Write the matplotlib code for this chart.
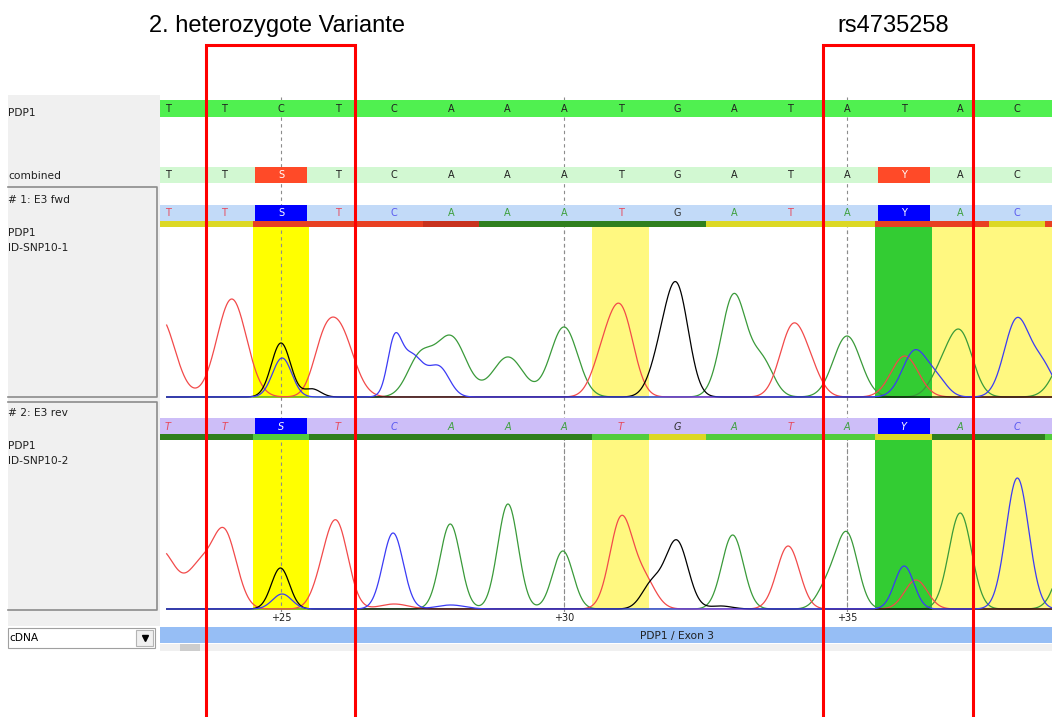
import numpy as np
import matplotlib.pyplot as plt
from matplotlib.patches import Rectangle

# ---- data ----
positions = np.arange(23, 39)               # cDNA positions of the called bases
ref_seq = list("TTCTCAAATGATATAC")          # PDP1 reference
combined_seq = list("TTSTCAAATGATAYAC")
fwd_seq = list("TTSTCAAATGATAYAC")
rev_seq = list("TTSTCAAATGATAYAC")

tick_pos = [25, 30, 35]
tick_labels = ["+25", "+30", "+35"]

# quality bar under each read, one entry per base (23..39)
qual_pos = np.arange(23, 40)
fwd_quality = ["y", "y", "r", "r", "r", "dr", "dg", "dg", "dg", "dg", "y", "y", "y", "r", "r", "y", "r"]
rev_quality = ["dg", "dg", "lg", "dg", "dg", "dg", "dg", "dg", "lg", "y", "lg", "lg", "lg", "y", "dg", "dg", "lg"]

# highlighted columns in both traces
hl_pos = [25, 31, 36, 37, 38, 39]
hl_colors = ["#FFFF00", "#FFF880", "#33CC33", "#FFF880", "#FFF880", "#FFF880"]

# chromatogram peaks per channel: (position, height, width)
fwd_peaks = {
    "A": [(27.45, 38, 0.22), (28.0, 60, 0.27), (29.01, 40, 0.27), (30.0, 70, 0.24),
          (33.0, 102, 0.22), (33.5, 35, 0.2), (35.0, 61, 0.24), (36.65, 20, 0.2),
          (37.0, 63, 0.22), (38.95, 50, 0.25)],
    "T": [(22.86, 80, 0.26), (24.13, 98, 0.26), (25.72, 26, 0.18), (26.01, 70, 0.26),
          (30.68, 32, 0.2), (31.01, 84, 0.22), (34.03, 67, 0.22), (34.35, 22, 0.2),
          (36.02, 41, 0.24)],
    "G": [(25.0, 54, 0.17), (25.55, 8, 0.15), (31.72, 38, 0.2), (32.01, 100, 0.2)],
    "C": [(25.02, 39, 0.17), (27.0, 46, 0.12), (27.3, 42, 0.22), (27.8, 28, 0.18),
          (36.2, 46, 0.22), (36.6, 15, 0.18), (38.0, 77, 0.22), (38.45, 30, 0.2)],
}
rev_peaks = {
    "A": [(27.99, 85, 0.18), (29.01, 105, 0.18), (29.98, 58, 0.18), (32.98, 74, 0.19),
          (34.65, 22, 0.18), (35.0, 74, 0.19), (37.0, 96, 0.2), (38.97, 70, 0.22)],
    "T": [(22.85, 60, 0.3), (23.55, 35, 0.2), (23.99, 78, 0.22), (25.72, 20, 0.18),
          (25.99, 82, 0.2), (27.0, 5, 0.25), (31.01, 90, 0.2), (31.42, 28, 0.2),
          (33.96, 63, 0.2), (36.22, 29, 0.2)],
    "G": [(24.99, 41, 0.16), (31.55, 24, 0.18), (31.99, 68, 0.2), (32.77, 3, 0.2)],
    "C": [(25.02, 15, 0.17), (26.98, 76, 0.18), (28.0, 4, 0.25), (36.01, 43, 0.17),
          (38.01, 131, 0.2)],
}

box_spans = [(23.68, 26.30), (34.58, 37.22)]
box_titles = ["2. heterozygote Variante", "rs4735258"]
title_x = [24.93, 35.81]

# ---- styles ----
trace_colors = {"A": "#3A9A3A", "C": "#3B3BF5", "G": "#000000", "T": "#F24A4A"}
letter_colors = {"A": "#3DA03D", "C": "#5A5AF0", "G": "#303030", "T": "#E8485A",
                 "S": "white", "Y": "white"}
qual_colors = {"y": "#DCD824", "r": "#E84022", "dr": "#C8321E",
               "dg": "#2F7F1E", "lg": "#52CC3C"}
ui_font = "DejaVu Sans"

W, H = 1052, 717
px0, step = 281, 56.6                      # pixel x of +25 and spacing of one base
pos_lo = 25 + (160 - px0) / step
pos_hi = 25 + (W - px0) / step

fig = plt.figure(figsize=(W / 100, H / 100), dpi=100)

# background / left panel in pixel units
bg = fig.add_axes([0, 0, 1, 1])
bg.set_xlim(0, W)
bg.set_ylim(H, 0)
bg.axis("off")
bg.add_patch(Rectangle((8, 95), 152, 531, facecolor="#F0F0F0", edgecolor="none"))
for top, bot in [(187, 397), (402, 610)]:
    bg.plot([8, 157, 157, 8], [top, top, bot, bot], color="#8C8C8C", lw=1.2)
labels = [("PDP1", 113), ("combined", 176), ("# 1: E3 fwd", 200), ("PDP1", 233),
          ("ID-SNP10-1", 248), ("# 2: E3 rev", 413), ("PDP1", 446), ("ID-SNP10-2", 461)]
for txt, y in labels:
    bg.text(8, y, txt, fontsize=7.7, family=ui_font, va="center", ha="left", color="#202020")
# cDNA combo box and scroll strip
bg.add_patch(Rectangle((8, 628), 147, 20, facecolor="white", edgecolor="#A0A0A0", lw=0.8))
bg.add_patch(Rectangle((136, 630), 17, 16, facecolor="#F0F0F0", edgecolor="#B4B4B4", lw=0.8))
bg.plot(144.5, 638, marker="v", color="black", ms=4)
bg.text(9, 638, "cDNA", fontsize=7.7, family=ui_font, va="center", ha="left")
bg.add_patch(Rectangle((160, 644), W - 160, 7, facecolor="#F0F0F0", edgecolor="none"))
bg.add_patch(Rectangle((180, 644), 20, 7, facecolor="#CDCDCD", edgecolor="none"))

# sequence tracks: x in base positions, y in pixels
tr = fig.add_axes([160 / W, 0, (W - 160) / W, 1])
tr.set_xlim(pos_lo, pos_hi)
tr.set_ylim(H, 0)
tr.axis("off")
tr.vlines(tick_pos, 97, 609, colors="#8C8C8C", linestyles=(0, (3, 3)), lw=0.8, zorder=0.5)

span = pos_hi - pos_lo
tr.barh(108.3, span, left=pos_lo, height=16.7, color="#50F050")
tr.barh(175, span, left=pos_lo, height=16, color="#D2F8D2")
tr.barh(213, span, left=pos_lo, height=16, color="#C2DAF8")
tr.barh(426, span, left=pos_lo, height=16, color="#CDBEF8")

amb = np.array([b in "SY" for b in combined_seq])
tr.bar(positions[amb], 16, bottom=167, width=0.92, color="#FF4A28")
tr.bar(positions[amb], 16, bottom=205, width=0.92, color="#0000FF")
tr.bar(positions[amb], 16, bottom=418, width=0.92, color="#0000FF")

tr.bar(qual_pos, 6, bottom=221, width=1.0, color=[qual_colors[q] for q in fwd_quality])
tr.bar(qual_pos, 6, bottom=434, width=1.0, color=[qual_colors[q] for q in rev_quality])

for p, b in zip(positions, ref_seq):
    tr.text(p, 108.5, b, fontsize=7, family=ui_font, ha="center", va="center", color="#202020")
for p, b in zip(positions, combined_seq):
    c = "white" if b in "SY" else "#202020"
    tr.text(p, 175.5, b, fontsize=7, family=ui_font, ha="center", va="center", color=c)
for p, b in zip(positions, fwd_seq):
    tr.text(p, 213.5, b, fontsize=7, family=ui_font, ha="center", va="center",
            color=letter_colors[b])
for p, b in zip(positions, rev_seq):
    tr.text(p, 426.5, b, fontsize=7, family=ui_font, ha="center", va="center",
            color=letter_colors[b], style="italic")

for p, t in zip(tick_pos, tick_labels):
    tr.text(p, 618, t, fontsize=7, family=ui_font, ha="center", va="center", color="#202020")
tr.barh(635, span, left=pos_lo, height=16, color="#96BEF5")
tr.text(32, 635.5, "PDP1 / Exon 3", fontsize=7.7, family=ui_font, ha="center", va="center",
        color="#202020")


def draw_trace(top_px, base_px, peaks):
    top = base_px - top_px
    ax = fig.add_axes([160 / W, 1 - (base_px + 3) / H, (W - 160) / W, (top + 3) / H])
    ax.set_xlim(pos_lo, pos_hi)
    ax.set_ylim(-3, top)
    ax.axis("off")
    ax.bar(hl_pos, top + 1, bottom=-1, width=1.0, color=hl_colors, zorder=1)
    ax.vlines(tick_pos, -3, top, colors="#8C8C8C", linestyles=(0, (3, 3)), lw=0.8, zorder=2)
    x = np.linspace(22.98, pos_hi, 3000)
    for base in ["A", "T", "G", "C"]:
        y = np.zeros_like(x)
        for p, h, s in peaks[base]:
            y += h * np.exp(-0.5 * ((x - p) / s) ** 2)
        ax.plot(x, y, color=trace_colors[base], lw=0.9, zorder=3)


draw_trace(227, 397, fwd_peaks)
draw_trace(440, 609, rev_peaks)

# red marker boxes with titles on top of everything
ov = fig.add_axes([160 / W, 0, (W - 160) / W, 1])
ov.set_xlim(pos_lo, pos_hi)
ov.set_ylim(H, 0)
ov.axis("off")
for (x0, x1), title, tx in zip(box_spans, box_titles, title_x):
    ov.plot([x0, x0, x1, x1], [H + 5, 44.5, 44.5, H + 5], color="#FF0000", lw=2.2,
            solid_joinstyle="miter", clip_on=False)
    ov.text(tx, 26, title, fontsize=17, family="Liberation Sans", ha="center", va="center")

fig.savefig("out.png", dpi=100)
